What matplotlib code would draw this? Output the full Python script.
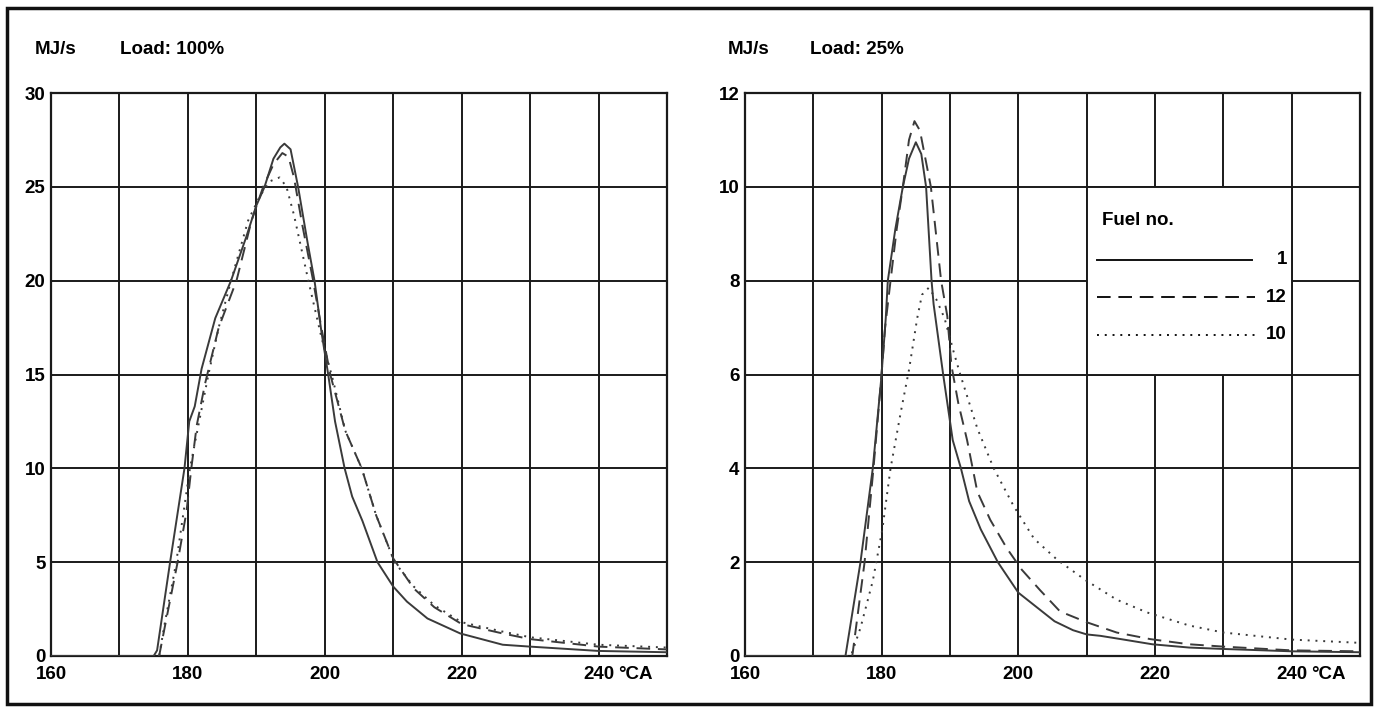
import matplotlib
matplotlib.use("Agg")
import matplotlib.pyplot as plt
from matplotlib.patches import Rectangle

# ========================= DATA =========================
# Load 100 %  (crank angle in deg, heat release rate in MJ/s)
LOAD100_FUEL1_CA = [160, 175, 175.5, 177.4, 179.5, 180.2, 181, 182, 184, 186.3, 188.5, 190, 191.2,
                    192.5, 193.5, 194.1, 195, 196.1, 197.5, 198.5, 199.5, 200.5, 201.5, 202.9, 204,
                    205.5, 207.7, 210, 212, 215, 219.8, 226, 230, 240, 250]
LOAD100_FUEL1_Q = [0, 0, 0.3, 5, 10, 12.5, 13.3, 15.3, 18, 20, 22.3, 24, 25,
                   26.5, 27.1, 27.3, 27.0, 25, 22, 20, 17.3, 15, 12.5, 10, 8.5,
                   7.2, 5, 3.7, 2.9, 2.0, 1.2, 0.6, 0.5, 0.27, 0.2]

LOAD100_FUEL12_CA = [160, 175.8, 176.6, 178.5, 179.8, 180.5, 181.3, 182.5, 184.5, 187.1, 189.3, 191,
                     192.5, 193.8, 194.7, 195.5, 196.7, 198.3, 199.5, 200.8, 203, 205.4, 207.5, 210,
                     213, 216, 220, 226, 230, 240, 250]
LOAD100_FUEL12_Q = [0, 0, 1.5, 5, 7.7, 10, 12.3, 14.5, 17.5, 20, 23.2, 25,
                    26.2, 26.8, 26.6, 25.5, 23, 20, 17.5, 15, 12, 10, 7.5, 5.2,
                    3.6, 2.6, 1.7, 1.2, 0.9, 0.5, 0.35]

LOAD100_FUEL10_CA = [160, 175.8, 176.5, 178.3, 180.3, 181.7, 183, 184.5, 186.3, 188.8, 190.5, 192,
                     193.4, 194.4, 195.5, 197.6, 199.5, 201.2, 203, 205.4, 207.5, 210.2, 213, 216,
                     220, 226, 230, 240, 250]
LOAD100_FUEL10_Q = [0, 0, 1.5, 5, 10, 12.6, 15, 17.5, 20, 23.2, 24.5, 25.3,
                    25.5, 25, 23.5, 20, 17, 14.7, 12, 10, 7.5, 5, 3.7, 2.7,
                    1.8, 1.3, 1.0, 0.6, 0.45]

# Load 25 %
LOAD25_FUEL1_CA = [160, 174.7, 176.9, 178.7, 179.9, 180.6, 180.9, 182, 183.1, 184, 185, 185.8,
                   186.5, 187.3, 187.6, 189, 190.4, 191.6, 192.8, 194.5, 197, 200, 205.3, 208,
                   210, 212, 215, 219.6, 225, 230, 240, 250]
LOAD25_FUEL1_Q = [0, 0, 2, 4, 5.85, 7.2, 8, 9.1, 10, 10.6, 10.95, 10.7,
                  10, 8, 7.5, 6, 4.6, 4.0, 3.3, 2.7, 2.0, 1.35, 0.74, 0.55,
                  0.46, 0.43, 0.36, 0.25, 0.18, 0.15, 0.1, 0.08]

LOAD25_FUEL12_CA = [160, 175.7, 177.5, 178.8, 179.9, 180.5, 181.3, 182.2, 183.1, 184, 184.8, 185.6,
                    186.4, 187.2, 188.7, 189.6, 190.2, 191.2, 192.5, 194, 195.9, 198.3, 200.5, 203.2,
                    206.1, 210, 214.4, 219.3, 225, 230, 240, 250]
LOAD25_FUEL12_Q = [0, 0, 2, 4, 5.85, 7, 8, 9.1, 10, 11.0, 11.4, 11.2,
                   10.6, 10, 8, 7.25, 6.2, 5.4, 4.6, 3.5, 2.9, 2.3, 1.84, 1.4,
                   0.95, 0.72, 0.5, 0.36, 0.25, 0.2, 0.12, 0.1]

LOAD25_FUEL10_CA = [160, 175.5, 176.9, 178.7, 180.1, 181.3, 182.8, 184, 185.2, 185.9, 186.9, 188,
                    189.2, 190.5, 191.5, 194, 196.4, 199.3, 202.3, 205.7, 209.8, 214.4, 218.8, 225,
                    230, 240, 250]
LOAD25_FUEL10_Q = [0, 0, 0.6, 1.6, 2.7, 4.0, 5.2, 6.1, 7.2, 7.7, 7.85, 7.6,
                   7.2, 6.5, 6.0, 4.85, 4.0, 3.2, 2.5, 2.05, 1.62, 1.2, 0.93, 0.65,
                   0.5, 0.35, 0.28]

FUEL_LABELS = ["1", "12", "10"]
X_TICKS = [160, 180, 200, 220, 240]
LEFT_Y_TICKS = [0, 5, 10, 15, 20, 25, 30]
RIGHT_Y_TICKS = [0, 2, 4, 6, 8, 10, 12]
# ========================================================

FONT = ["Liberation Sans", "DejaVu Sans"]
FS = 13.5
LINE_COLOR = "#3a3a3a"
GRID_COLOR = "#1a1a1a"
STYLES = [
    dict(linestyle="-"),
    dict(linestyle=(0, (7, 4))),
    dict(linestyle=(0, (1, 3))),
]


def setup_axes(ax, y_ticks, y_max):
    ax.set_xlim(160, 250)
    ax.set_ylim(0, y_max)
    ax.set_xticks(range(160, 251, 10))
    ax.set_xticklabels([str(t) if t in X_TICKS else "" for t in range(160, 251, 10)])
    ax.set_yticks(y_ticks)
    ax.set_yticklabels([str(t) for t in y_ticks])
    ax.tick_params(length=0, labelsize=FS)
    ax.tick_params(axis="x", pad=7)
    ax.tick_params(axis="y", pad=4)
    for lab in ax.get_xticklabels() + ax.get_yticklabels():
        lab.set_fontweight("bold")
        lab.set_family(FONT)
    ax.grid(True, color=GRID_COLOR, linewidth=1.4)
    ax.set_axisbelow(True)
    for sp in ax.spines.values():
        sp.set_linewidth(1.6)
        sp.set_color(GRID_COLOR)
    # unit after the last x label
    ax.annotate("°CA", xy=(240, 0), xycoords=("data", "axes fraction"),
                xytext=(14, -7), textcoords="offset points",
                ha="left", va="top", fontsize=FS, fontweight="bold", family=FONT)


def plot_curves(ax, series):
    for (ca, q), st in zip(series, STYLES):
        ax.plot(ca, q, color=LINE_COLOR, linewidth=1.4, zorder=3, **st)


def draw_legend(ax):
    ax.add_patch(Rectangle((210, 6), 30, 4, facecolor="white", edgecolor=GRID_COLOR,
                           linewidth=1.4, zorder=2))
    ax.text(212.2, 9.28, "Fuel no.", fontsize=FS, fontweight="bold", family=FONT,
            va="center", ha="left", zorder=4)
    rows = [8.45, 7.65, 6.85]
    ends = [234.2, 234.7, 235.4]
    for y, x_end, st, lab in zip(rows, ends, STYLES, FUEL_LABELS):
        ax.plot([211.5, x_end], [y, y], color="#111111", linewidth=1.4, zorder=4, **st)
        ax.text(239.3, y, lab, fontsize=FS, fontweight="bold", family=FONT,
                va="center", ha="right", zorder=4)


def main():
    fig = plt.figure(figsize=(13.77, 7.08), dpi=100)
    fig.patch.set_facecolor("white")

    ax1 = fig.add_axes([51 / 1377, 1 - 656 / 708, 616 / 1377, 563 / 708])
    ax2 = fig.add_axes([745 / 1377, 1 - 656 / 708, 615 / 1377, 563 / 708])

    setup_axes(ax1, LEFT_Y_TICKS, 30)
    setup_axes(ax2, RIGHT_Y_TICKS, 12)

    plot_curves(ax1, [(LOAD100_FUEL1_CA, LOAD100_FUEL1_Q),
                      (LOAD100_FUEL12_CA, LOAD100_FUEL12_Q),
                      (LOAD100_FUEL10_CA, LOAD100_FUEL10_Q)])
    plot_curves(ax2, [(LOAD25_FUEL1_CA, LOAD25_FUEL1_Q),
                      (LOAD25_FUEL12_CA, LOAD25_FUEL12_Q),
                      (LOAD25_FUEL10_CA, LOAD25_FUEL10_Q)])
    draw_legend(ax2)

    # headers
    for x_unit, x_load, load in [(35, 120, "Load: 100%"), (728, 810, "Load: 25%")]:
        fig.text(x_unit / 1377, 1 - 49 / 708, "MJ/s", fontsize=FS, fontweight="bold",
                 family=FONT, va="center", ha="left")
        fig.text(x_load / 1377, 1 - 49 / 708, load, fontsize=FS, fontweight="bold",
                 family=FONT, va="center", ha="left")

    # outer frame
    fig.patches.append(Rectangle((7 / 1377, 1 - 704 / 708), 1364 / 1377, 696 / 708,
                                 transform=fig.transFigure, fill=False,
                                 edgecolor="#111111", linewidth=2.5))

    fig.savefig("out.png", dpi=100)


if __name__ == '__main__':
    main()
